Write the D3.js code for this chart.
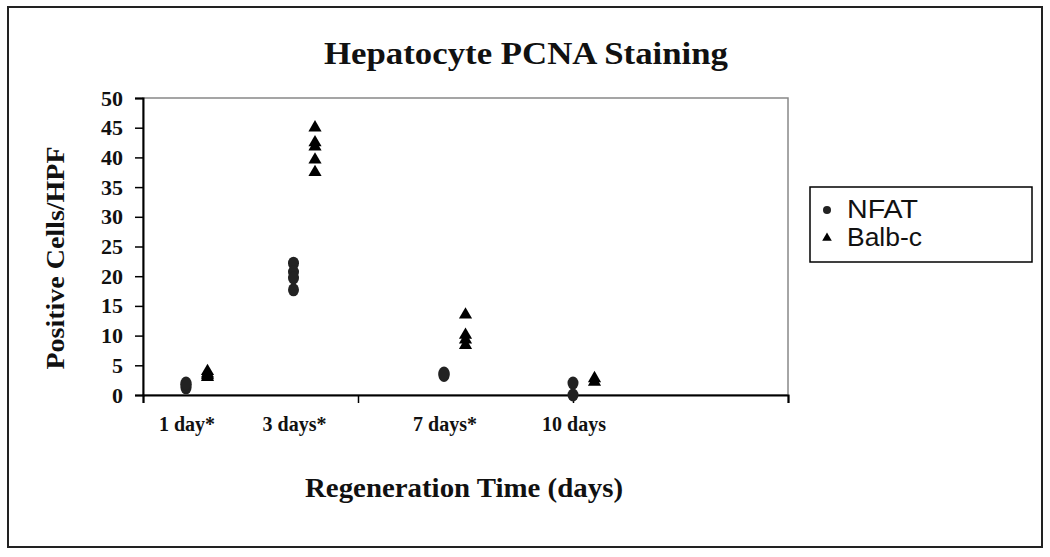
<!DOCTYPE html>
<html>
<head>
<meta charset="utf-8">
<script src="https://cdn.jsdelivr.net/npm/d3@7"></script>
<style>
  body { margin: 0; background: #fff; }
  svg text { fill: #111; }
  .serif { font-family: "Liberation Serif", "Times New Roman", serif; font-weight: bold; }
  .sans { font-family: "Liberation Sans", Arial, sans-serif; }
</style>
</head>
<body>
<svg width="1050" height="557"></svg>
<script>
// categories and where each group sits on the numeric x axis
let categories = ['1 day*', '3 days*', '7 days*', '10 days']
let nfatX = [1, 3.5, 7, 10]
let balbX = [1.5, 4, 7.5, 10.5]

// readings per time point
let nfatValues = [
  [1.2, 1.5, 1.8, 2.0],
  [22.2, 20.7, 19.7, 17.7],
  [3.3, 3.5, 3.7],
  [2.0, 0]
]
let balbValues = [
  [3.0, 3.3, 3.6, 4.0],
  [45, 42.5, 41.8, 39.6, 37.5],
  [13.5, 10.1, 9.3, 8.4],
  [2.2, 2.8]
]

let yTicks = [0, 5, 10, 15, 20, 25, 30, 35, 40, 45, 50]
let xTicks = [0, 5, 10, 15]

let svg = d3.select('svg')

// outer frame
svg.append('rect')
  .attr('x', 8).attr('y', 7).attr('width', 1034).attr('height', 540)
  .attr('fill', 'none').attr('stroke', '#222').attr('stroke-width', 2)

let m = {left: 143, right: 788, top: 98, bottom: 395}

let x = d3.scaleLinear().domain([0, 15]).range([m.left, m.right])
let y = d3.scaleLinear().domain([0, 50]).range([m.bottom, m.top])

// plot area border (gray top/right)
svg.append('rect')
  .attr('x', m.left).attr('y', m.top)
  .attr('width', m.right - m.left).attr('height', m.bottom - m.top)
  .attr('fill', 'none').attr('stroke', '#888').attr('stroke-width', 1.5)

let yAxis = svg.append('g')
  .attr('transform', `translate(${m.left},0)`)
  .call(d3.axisLeft(y).tickValues(yTicks).tickSize(8).tickPadding(12))
yAxis.select('.domain').attr('stroke', '#000').attr('stroke-width', 2)
yAxis.selectAll('.tick line').attr('stroke', '#000').attr('stroke-width', 1.5)
yAxis.selectAll('text').attr('class', 'serif').style('font-size', '22px').attr('fill', '#111')

let xAxis = svg.append('g')
  .attr('transform', `translate(0,${m.bottom})`)
  .call(d3.axisBottom(x).tickValues(xTicks).tickSize(8).tickFormat(''))
xAxis.select('.domain').attr('stroke', '#000').attr('stroke-width', 2)
xAxis.selectAll('.tick line').attr('stroke', '#000').attr('stroke-width', 1.5)

// category labels under the axis
svg.selectAll('text.cat')
  .data(categories)
  .enter().append('text')
  .attr('class', 'cat serif')
  .attr('x', (d, i) => x(nfatX[i]) + 1)
  .attr('y', m.bottom + 36)
  .attr('text-anchor', 'middle')
  .style('font-size', '20px')
  .text(d => d)

// points
let flat = (vals, xs) => vals.flatMap((arr, i) => arr.map(v => ({x: xs[i], v: v})))

svg.append('g').selectAll('ellipse')
  .data(flat(nfatValues, nfatX))
  .enter().append('ellipse')
  .attr('cx', d => x(d.x)).attr('cy', d => y(d.v))
  .attr('rx', 5.5).attr('ry', 6.5)
  .attr('fill', '#222')

let tri = d3.symbol().type(d3.symbolTriangle).size(75)
svg.append('g').selectAll('path')
  .data(flat(balbValues, balbX))
  .enter().append('path')
  .attr('d', tri)
  .attr('transform', d => `translate(${x(d.x)},${y(d.v)})`)
  .attr('fill', '#000')

// titles
svg.append('text')
  .attr('class', 'serif')
  .attr('x', 526).attr('y', 64)
  .attr('text-anchor', 'middle')
  .style('font-size', '31px')
  .attr('textLength', 404).attr('lengthAdjust', 'spacingAndGlyphs')
  .text('Hepatocyte PCNA Staining')

svg.append('text')
  .attr('class', 'serif')
  .attr('x', 464).attr('y', 497)
  .attr('text-anchor', 'middle')
  .style('font-size', '27px')
  .attr('textLength', 318).attr('lengthAdjust', 'spacingAndGlyphs')
  .text('Regeneration Time (days)')

svg.append('text')
  .attr('class', 'serif')
  .attr('transform', 'translate(64,258) rotate(-90)')
  .attr('text-anchor', 'middle')
  .style('font-size', '26px')
  .attr('textLength', 223).attr('lengthAdjust', 'spacingAndGlyphs')
  .text('Positive Cells/HPF')

// legend
let legend = svg.append('g')
legend.append('rect')
  .attr('x', 810).attr('y', 187).attr('width', 222).attr('height', 75)
  .attr('fill', '#fff').attr('stroke', '#000').attr('stroke-width', 1.5)

let legendItems = ['NFAT', 'Balb-c']
let legendWidths = [71, 75]
legend.selectAll('text.leg')
  .data(legendItems)
  .enter().append('text')
  .attr('class', 'leg sans')
  .attr('x', 847)
  .attr('y', (d, i) => 218 + i * 28)
  .style('font-size', '25px')
  .attr('textLength', (d, i) => legendWidths[i]).attr('lengthAdjust', 'spacingAndGlyphs')
  .text(d => d)

legend.append('circle')
  .attr('cx', 827).attr('cy', 210).attr('r', 4).attr('fill', '#222')
legend.append('path')
  .attr('d', d3.symbol().type(d3.symbolTriangle).size(40))
  .attr('transform', 'translate(827,238)')
  .attr('fill', '#000')
</script>
</body>
</html>
